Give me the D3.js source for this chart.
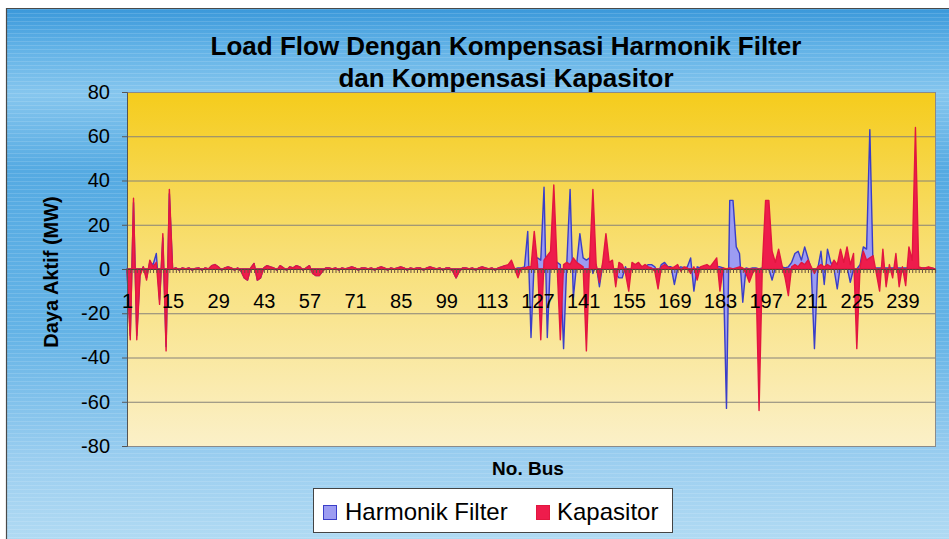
<!DOCTYPE html>
<html lang="id">
<head>
    <meta charset="UTF-8">
    <title>Load Flow Dengan Kompensasi Harmonik Filter dan Kompensasi Kapasitor</title>
    <style>
        body{ margin:0; background:#fff;}
        svg{ display:block;}
        text{ font-family:"Liberation Sans", Arial, sans-serif; fill:#000;}
    </style>
</head>
<body>

<script src="https://cdn.jsdelivr.net/npm/d3@7"></script>
<script>

// categories: bus number 1..249
var busNo = d3.range(1, 250);
var xLabels = [1, 15, 29, 43, 57, 71, 85, 99, 113, 127, 141, 155, 169, 183, 197, 211, 225, 239];
var yTicks = [-80, -60, -40, -20, 0, 20, 40, 60, 80];

var titleLines = ["Load Flow Dengan Kompensasi Harmonik Filter", "dan Kompensasi Kapasitor"];
var seriesNames = ["Harmonik Filter", "Kapasitor"];

// daya aktif (MW), 14 values per row
var harmonikFilter = [
    0, -30, 30, -30, -2, 1, -4, 3, 2, 7, -14, 14, -35, 34,             // 1
    0, 0.5, -0.5, 0.5, 0, 0.5, -0.5, 0.3, 0.5, -0.5, 0.5, 0, 1.5, 2,   // 15
    1, -0.5, 0.5, 1, 0.5, -0.5, 0.5, -1, -4, -5, 0.5, 2.5, -5, -4,     // 29
    0.5, 1.5, 1, 0.5, -0.5, 1.5, 0.5, -0.5, 1, 0.5, 1.5, 1, -0.5, 0.5, // 43
    1.5, -2, -3, -3, -1, 0.5, 0.5, 0, 0.5, -0.5, 0.5, 0, 0.5, 1,       // 57
    0.5, -0.5, 0.5, 0.5, 0, 0.5, -0.5, 0.5, 1, 0.5, -0.5, 0.5, 0, 0.5, // 71
    1, 0.5, -0.5, 0.5, 0, 0.5, 0.5, -0.5, 0.5, 1, 0.5, 0, 0.5, -0.5,   // 85
    0.5, 0.5, -1, -4, -1, 0.5, 0.5, 0, 0.5, -0.5, 0.5, 1, 0.5, 0,      // 99
    0.5, -0.5, 0.5, 1, 1.5, 1, 0.5, 0, 0.5, 0.5, 1, 17, -31, 4,        // 113
    5, 4, 37, -31, 5, 4, 3, 2, -36, 3, 36, -13, 2, 16,                 // 127
    5, 4, 5, -2, 2, -8, 2, 1, 2, 1, -2, -4, -4, 1,                     // 141
    -3, 1, 1, 2, 1, 1, 2, 2, 1, -2, 2, 3, 1, 1,                        // 155
    -7, 0, 1, 0.5, 1, 5, -10, 1, 0.5, 1, 1, 0.5, 1, 1,                 // 169
    1, 0.5, -63, 31, 31, 10, 7, -15, 0.5, 0, 0.5, 0.5, 0, 0.5,         // 183
    0.5, 0, -5, 0.5, 1, 1, 0.5, 1, 3, 7, 8, 4, 10, 5,                  // 197
    0, -36, 0, 8, -7, 9, 3, 0, -9, 2, 0, 1, -6, 0,                     // 211
    0, 2, 10, 9, 63, 0, 0.5, 0.5, 0.5, 0.5, 0.5, 0.5, 0.5, 0.5,        // 225
    0.5, 0.5, 0.5, 0.5, 0.5, 0.5, 0.5, 0.5, 0.5, 0.5, 0                // 239
];

var kapasitor = [
    0, -32, 32, -32, -3, 1, -5, 4, 1, 3, -16, 16, -37, 36,             // 1
    0, 0.5, -0.5, 0.5, 0, 0.5, -0.5, 0.3, 0.5, -0.5, 0.5, 0, 1.5, 2,   // 15
    1, -0.5, 0.5, 1, 0.5, -0.5, 0.5, -1, -4, -5, 0.5, 2.5, -5, -4,     // 29
    0.5, 1.5, 1, 0.5, -0.5, 1.5, 0.5, -0.5, 1, 0.5, 1.5, 1, -0.5, 0.5, // 43
    1.5, -2, -3, -3, -1, 0.5, 0.5, 0, 0.5, -0.5, 0.5, 0, 0.5, 1,       // 57
    0.5, -0.5, 0.5, 0.5, 0, 0.5, -0.5, 0.5, 1, 0.5, -0.5, 0.5, 0, 0.5, // 71
    1, 0.5, -0.5, 0.5, 0, 0.5, 0.5, -0.5, 0.5, 1, 0.5, 0, 0.5, -0.5,   // 85
    0.5, 0.5, -1, -4, -1, 0.5, 0.5, 0, 0.5, -0.5, 0.5, 1, 0.5, 0,      // 99
    0.5, -0.5, 0.5, 1, 1.5, 2, 4, 0, -4, 0.5, 0.5, 1, 1, 17,           // 113
    2, -32, 4, 6, 8, 38, 2, -32, 2, 3, 2, 5, 3, 2,                     // 127
    1, -37, 4, 36, 2, -6, 3, 16, 3, 4, -8, 3, 2, -2,                   // 141
    -10, 3, 2, 3, 1, 2, 1, 0.5, -1, -9, 1, 2, 1, 0.5,                  // 155
    1, 2, -1, 1, 0.5, -2, 1, -5, 1, 1.5, 2, 1, 3, 5,                   // 169
    -10, 0.5, 0, 0.5, 0, 0.5, 1, 0.5, -2, -6, -2, 0, -64, 1,           // 183
    31, 31, 8, 3, 9, 2, -4, -12, 1, 2, 1, 3, 2, 4,                     // 197
    1, -2, 1, 2, 1, 2, 1, 4, 2, 9, 3, 10, 2, 7,                        // 211
    -36, 1, 8, 4, 5, 6, -2, -10, 9, -8, 2, -4, 7, -8,                  // 225
    1, -7.5, 10, 4, 64, 1, 0.5, 0.5, 1, 0.5, 0                         // 239
];

var W = 949, H = 539;
var plot = { left:127, right:935, top:92, bottom:446 };

var svg = d3.select("body").append("svg")
        .attr("width", W)
        .attr("height", H);

var defs = svg.append("defs");

// outer blue background
var bgGrad = defs.append("linearGradient").attr("id", "bgGrad")
        .attr("x1", 0).attr("y1", 0).attr("x2", 0).attr("y2", 1);
[[0, "#3a98da"], [0.07, "#60b1e6"], [0.16, "#86c6ee"], [0.3, "#55aae2"],
 [0.6, "#64b3e6"], [0.85, "#9dcff0"], [1, "#b2dbf3"]].forEach(function(s){
    bgGrad.append("stop").attr("offset", s[0]).attr("stop-color", s[1]);
});

var streaks = defs.append("pattern").attr("id", "streaks")
        .attr("width", 8).attr("height", 4).attr("patternUnits", "userSpaceOnUse");
streaks.append("rect").attr("x", 0).attr("y", 1).attr("width", 8).attr("height", 1)
        .attr("fill", "#fff").attr("opacity", 0.13);

// plot area yellow
var plotGrad = defs.append("linearGradient").attr("id", "plotGrad")
        .attr("x1", 0).attr("y1", 0).attr("x2", 0).attr("y2", 1);
[[0, "#f5cc1c"], [0.45, "#f8df74"], [1, "#fbf0c8"]].forEach(function(s){
    plotGrad.append("stop").attr("offset", s[0]).attr("stop-color", s[1]);
});

svg.append("rect").attr("width", W).attr("height", H).attr("fill", "#fff");
svg.append("rect").attr("x", 6).attr("y", 8).attr("width", W).attr("height", H)
        .attr("fill", "url(#bgGrad)");
svg.append("rect").attr("x", 6).attr("y", 8).attr("width", W).attr("height", H)
        .attr("fill", "url(#streaks)");
svg.append("path").attr("d", "M6.5," + H + "V8.5H" + W)
        .attr("fill", "none").attr("stroke", "#4a4a4a").attr("stroke-width", 1.2);

// scales
var x = d3.scalePoint().domain(busNo).range([plot.left, plot.right]);
var y = d3.scaleLinear().domain([-80, 80]).range([plot.bottom, plot.top]);

svg.append("rect")
        .attr("x", plot.left).attr("y", plot.top)
        .attr("width", plot.right - plot.left).attr("height", plot.bottom - plot.top)
        .attr("fill", "url(#plotGrad)");

// gridlines
svg.append("g").selectAll("line").data(yTicks.filter(function(d){ return d !== 80 && d !== -80; }))
    .enter().append("line")
        .attr("x1", plot.left).attr("x2", plot.right)
        .attr("y1", function(d){ return y(d) + 0.5; })
        .attr("y2", function(d){ return y(d) + 0.5; })
        .attr("stroke", "#86827a").attr("stroke-width", 1);

svg.append("rect")
        .attr("x", plot.left + 0.5).attr("y", plot.top + 0.5)
        .attr("width", plot.right - plot.left).attr("height", plot.bottom - plot.top)
        .attr("fill", "none").attr("stroke", "#8a8a8a");

// series
function toPoints(arr){
    return busNo.map(function(b, i){ return { bus:b, v:arr[i] }; });
}

var area = d3.area()
        .x(function(d){ return x(d.bus); })
        .y0(y(0))
        .y1(function(d){ return y(d.v); });

svg.append("path").datum(toPoints(harmonikFilter))
        .attr("d", area)
        .attr("fill", "#9c9cf2")
        .attr("stroke", "#3a3ec8").attr("stroke-width", 1.4).attr("stroke-linejoin", "round");

svg.append("path").datum(toPoints(kapasitor))
        .attr("d", area)
        .attr("fill", "#ee1c4c")
        .attr("stroke", "#e2163f").attr("stroke-width", 1.4).attr("stroke-linejoin", "round");

// axes (plain hyphen for negatives, as in the original)
var yAxis = svg.append("g")
        .attr("transform", "translate(" + plot.left + ",0)")
        .call(d3.axisLeft(y).tickValues(yTicks).tickSize(5).tickPadding(12)
            .tickFormat(function(d){ return String(d); }));
yAxis.select(".domain").attr("stroke", "#555");
yAxis.selectAll(".tick line").attr("stroke", "#555");
yAxis.selectAll("text").style("font-size", "20px").attr("fill", "#000");

var xAxis = svg.append("g")
        .attr("transform", "translate(0," + y(0) + ")")
        .call(d3.axisBottom(x).tickValues(busNo).tickSize(4).tickPadding(21)
            .tickFormat(function(d){ return xLabels.indexOf(d) >= 0 ? d : ""; }));
xAxis.select(".domain").attr("stroke", "#5a3a3a").attr("stroke-width", 1.2);
xAxis.selectAll(".tick line").attr("stroke", "#6a5040").attr("stroke-width", 1);
xAxis.selectAll("text").style("font-size", "20px").attr("fill", "#000");

// titles
svg.append("g").selectAll("text").data(titleLines).enter().append("text")
        .attr("x", 506)
        .attr("y", function(d, i){ return 55 + i * 32; })
        .attr("text-anchor", "middle")
        .style("font-size", "26px").style("font-weight", "bold")
        .text(function(d){ return d; });

svg.append("text")
        .attr("transform", "translate(58,272) rotate(-90)")
        .attr("text-anchor", "middle")
        .style("font-size", "20px").style("font-weight", "bold")
        .text("Daya Aktif (MW)");

svg.append("text")
        .attr("x", 528).attr("y", 475)
        .attr("text-anchor", "middle")
        .style("font-size", "19px").style("font-weight", "bold")
        .text("No. Bus");

// legend
var legend = svg.append("g");
legend.append("rect")
        .attr("x", 313.5).attr("y", 488.5).attr("width", 359).attr("height", 44)
        .attr("fill", "#fff").attr("stroke", "#444");

var swatch = [
    { name:seriesNames[0], x:323, tx:345, fill:"#9c9cf2", stroke:"#3a3ec8" },
    { name:seriesNames[1], x:536, tx:557, fill:"#ee1c4c", stroke:"#e2163f" }
];
legend.selectAll(".sw").data(swatch).enter().append("rect")
        .attr("x", function(d){ return d.x + 0.5; }).attr("y", 505.5)
        .attr("width", 13).attr("height", 14)
        .attr("fill", function(d){ return d.fill; })
        .attr("stroke", function(d){ return d.stroke; });
legend.selectAll(".lt").data(swatch).enter().append("text")
        .attr("x", function(d){ return d.tx; }).attr("y", 520)
        .style("font-size", "24px")
        .text(function(d){ return d.name; });

</script>

</body>
</html>
